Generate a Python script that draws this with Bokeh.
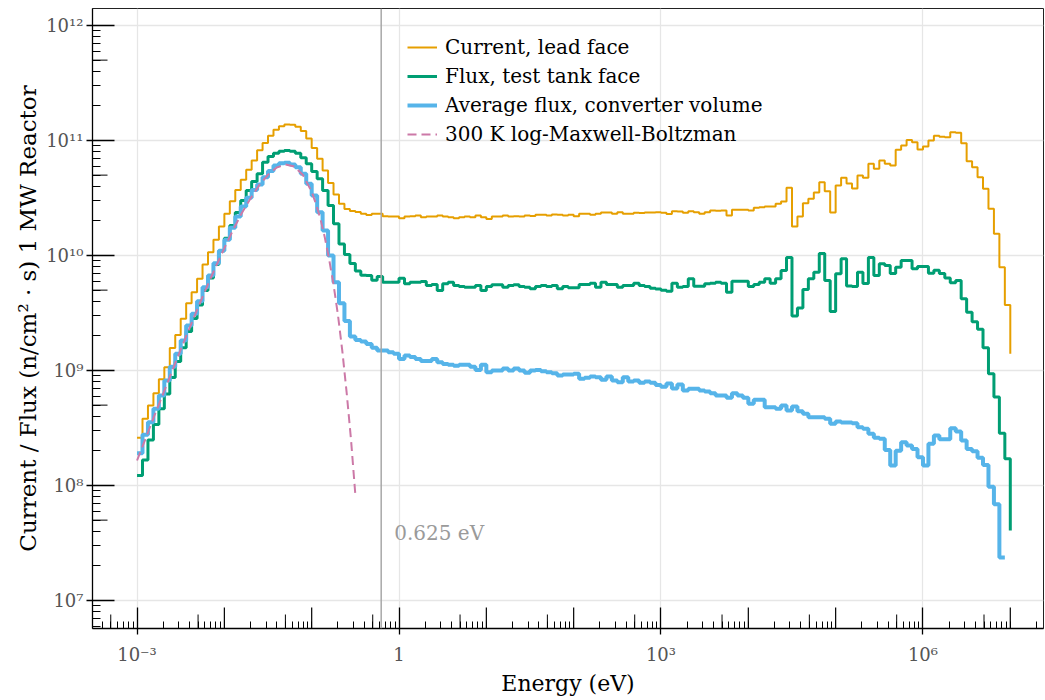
import numpy as np
from bokeh.plotting import figure
from bokeh.models import FixedTicker, Span, Label, Legend, LegendItem
from bokeh.embed import file_html
from bokeh.resources import INLINE

# ---------------- data ----------------
# 16 logarithmic bins per decade from 1e-3 eV to 1e7 eV
bin_edges_eV = np.logspace(-3, 7, 161)

# value per bin (n/cm^2 s); the last entry of the first two is the tail value drawn at 1e7 eV
current_lead_face = [
    2.60e8, 3.80e8, 4.96e8, 6.35e8, 8.40e8, 1.07e9, 1.57e9, 2.04e9, 2.82e9, 3.85e9,
    4.80e9, 6.27e9, 8.35e9, 1.07e10, 1.37e10, 1.79e10, 2.31e10, 2.96e10, 3.72e10, 4.55e10,
    5.56e10, 6.70e10, 8.24e10, 9.51e10, 1.10e11, 1.24e11, 1.33e11, 1.38e11, 1.37e11, 1.32e11,
    1.21e11, 1.04e11, 8.61e10, 6.93e10, 5.48e10, 4.27e10, 3.39e10, 2.82e10, 2.54e10, 2.44e10,
    2.39e10, 2.31e10, 2.25e10, 2.31e10, 2.31e10, 2.20e10, 2.18e10, 2.18e10, 2.11e10, 2.18e10,
    2.20e10, 2.23e10, 2.15e10, 2.18e10, 2.18e10, 2.23e10, 2.18e10, 2.15e10, 2.11e10, 2.15e10,
    2.18e10, 2.15e10, 2.23e10, 2.15e10, 2.08e10, 2.18e10, 2.18e10, 2.23e10, 2.18e10, 2.20e10,
    2.18e10, 2.23e10, 2.21e10, 2.26e10, 2.26e10, 2.23e10, 2.27e10, 2.26e10, 2.23e10, 2.26e10,
    2.20e10, 2.31e10, 2.31e10, 2.26e10, 2.31e10, 2.37e10, 2.37e10, 2.31e10, 2.38e10, 2.31e10,
    2.31e10, 2.35e10, 2.34e10, 2.37e10, 2.37e10, 2.38e10, 2.35e10, 2.30e10, 2.43e10, 2.41e10,
    2.35e10, 2.43e10, 2.38e10, 2.31e10, 2.38e10, 2.46e10, 2.45e10, 2.46e10, 2.23e10, 2.50e10,
    2.50e10, 2.50e10, 2.46e10, 2.60e10, 2.63e10, 2.67e10, 2.67e10, 2.82e10, 2.95e10, 3.88e10,
    1.79e10, 2.18e10, 2.85e10, 3.11e10, 3.53e10, 4.34e10, 3.62e10, 2.37e10, 4.06e10, 4.74e10,
    4.23e10, 3.83e10, 4.97e10, 4.74e10, 6.27e10, 5.67e10, 6.70e10, 6.27e10, 6.07e10, 8.30e10,
    9.06e10, 1.01e11, 9.66e10, 8.36e10, 8.87e10, 1.00e11, 1.10e11, 1.08e11, 1.07e11, 1.18e11,
    1.17e11, 9.48e10, 6.61e10, 5.86e10, 4.80e10, 3.80e10, 2.55e10, 1.55e10, 7.91e9, 3.72e9,
    1.40e9,
]

flux_test_tank_face = [
    1.22e8, 1.67e8, 2.49e8, 3.39e8, 4.64e8, 6.25e8, 8.69e8, 1.20e9, 1.58e9, 2.18e9,
    2.83e9, 3.72e9, 4.97e9, 6.37e9, 8.35e9, 1.10e10, 1.41e10, 1.82e10, 2.37e10, 3.01e10,
    3.67e10, 4.40e10, 5.13e10, 6.47e10, 7.26e10, 7.76e10, 8.07e10, 8.19e10, 8.07e10, 7.76e10,
    7.08e10, 6.27e10, 5.37e10, 4.65e10, 3.67e10, 2.72e10, 1.89e10, 1.26e10, 1.02e10, 8.51e9,
    7.33e9, 6.74e9, 6.70e9, 6.10e9, 6.56e9, 5.86e9, 5.86e9, 5.86e9, 6.35e9, 5.67e9,
    5.86e9, 5.86e9, 5.94e9, 5.48e9, 5.60e9, 4.97e9, 5.67e9, 5.86e9, 5.48e9, 5.37e9,
    5.30e9, 5.30e9, 5.48e9, 4.97e9, 5.37e9, 5.56e9, 5.56e9, 5.30e9, 5.48e9, 5.56e9,
    5.37e9, 5.30e9, 5.13e9, 5.37e9, 5.48e9, 5.37e9, 5.48e9, 5.13e9, 5.37e9, 5.24e9,
    5.24e9, 5.60e9, 5.60e9, 5.74e9, 5.30e9, 5.86e9, 5.60e9, 5.60e9, 5.30e9, 5.48e9,
    5.48e9, 5.74e9, 5.48e9, 5.37e9, 5.20e9, 5.12e9, 4.99e9, 4.90e9, 5.74e9, 5.30e9,
    5.37e9, 6.27e9, 5.41e9, 5.41e9, 5.67e9, 5.74e9, 5.86e9, 5.74e9, 4.80e9, 5.98e9,
    5.98e9, 5.98e9, 5.37e9, 5.60e9, 5.86e9, 6.27e9, 5.74e9, 6.27e9, 7.41e9, 9.61e9,
    2.98e9, 3.49e9, 5.06e9, 6.27e9, 7.16e9, 1.04e10, 6.07e9, 3.26e9, 6.93e9, 9.35e9,
    5.43e9, 5.37e9, 7.16e9, 5.71e9, 9.61e9, 6.70e9, 8.49e9, 8.18e9, 6.97e9, 7.91e9,
    9.06e9, 9.06e9, 7.66e9, 8.02e9, 8.02e9, 7.02e9, 7.45e9, 6.97e9, 6.37e9, 5.80e9,
    6.07e9, 4.20e9, 3.21e9, 2.65e9, 2.28e9, 1.58e9, 9.35e8, 5.89e8, 2.85e8, 1.71e8,
    4.06e7,
]

# ends one bin earlier (the last value closes the final bin)
avg_flux_converter_volume = [
    1.91e8, 2.77e8, 3.55e8, 4.64e8, 6.07e8, 8.19e8, 1.08e9, 1.40e9, 1.82e9, 2.46e9,
    3.11e9, 4.01e9, 5.30e9, 6.70e9, 8.57e9, 1.10e10, 1.37e10, 1.74e10, 2.18e10, 2.67e10,
    3.18e10, 3.72e10, 4.14e10, 4.80e10, 5.43e10, 6.07e10, 6.35e10, 6.40e10, 6.18e10, 5.86e10,
    5.13e10, 4.20e10, 3.33e10, 2.38e10, 1.65e10, 1.00e10, 5.86e9, 3.85e9, 2.69e9, 1.98e9,
    1.84e9, 1.79e9, 1.70e9, 1.58e9, 1.49e9, 1.49e9, 1.44e9, 1.40e9, 1.26e9, 1.35e9,
    1.31e9, 1.26e9, 1.21e9, 1.21e9, 1.26e9, 1.18e9, 1.14e9, 1.12e9, 1.10e9, 1.12e9,
    1.12e9, 1.08e9, 1.01e9, 1.12e9, 9.66e8, 1.00e9, 1.00e9, 1.04e9, 1.00e9, 1.04e9,
    1.00e9, 9.55e8, 1.00e9, 1.01e9, 9.86e8, 9.66e8, 9.48e8, 9.06e8, 9.23e8, 9.23e8,
    9.35e8, 8.47e8, 8.65e8, 8.87e8, 8.75e8, 8.30e8, 8.87e8, 8.19e8, 7.91e8, 8.75e8,
    8.02e8, 8.19e8, 7.82e8, 8.02e8, 7.82e8, 7.48e8, 7.21e8, 7.71e8, 6.97e8, 7.55e8,
    6.70e8, 6.93e8, 6.93e8, 6.70e8, 6.56e8, 6.35e8, 6.07e8, 6.07e8, 5.79e8, 6.35e8,
    6.07e8, 5.79e8, 5.13e8, 5.56e8, 5.56e8, 4.80e8, 4.80e8, 4.64e8, 4.96e8, 4.49e8,
    4.86e8, 4.43e8, 4.20e8, 3.93e8, 3.93e8, 3.93e8, 3.80e8, 3.44e8, 3.61e8, 3.53e8,
    3.53e8, 3.48e8, 3.21e8, 3.11e8, 2.82e8, 2.60e8, 2.55e8, 2.04e8, 1.49e8, 2.01e8,
    2.38e8, 2.23e8, 2.08e8, 1.76e8, 1.49e8, 2.31e8, 2.72e8, 2.53e8, 2.53e8, 3.15e8,
    2.95e8, 2.46e8, 2.08e8, 1.99e8, 1.74e8, 1.51e8, 9.75e7, 6.87e7, 2.37e7, 2.37e7,
]

# 300 K log-Maxwell-Boltzmann curve
mb_energy_eV = [1.0e-3, 1.26e-3, 1.58e-3, 2.0e-3, 2.51e-3, 3.16e-3, 3.98e-3, 5.01e-3, 6.31e-3,
                7.94e-3, 1.0e-2, 1.26e-2, 1.58e-2, 2.0e-2, 2.51e-2, 3.16e-2, 3.98e-2, 5.01e-2,
                6.31e-2, 7.94e-2, 0.1, 0.112, 0.126, 0.141, 0.158, 0.178, 0.2, 0.224, 0.251,
                0.282, 0.316]
mb_flux = [1.65e8, 2.59e8, 4.05e8, 6.32e8, 9.81e8, 1.52e9, 2.33e9, 3.55e9, 5.35e9,
           7.95e9, 1.16e10, 1.67e10, 2.33e10, 3.15e10, 4.09e10, 5.04e10, 5.82e10, 6.19e10,
           5.94e10, 5.01e10, 3.58e10, 2.81e10, 2.08e10, 1.45e10, 9.36e9, 5.58e9, 3.03e9,
           1.49e9, 6.5e8, 2.51e8, 8.35e7]

cadmium_cutoff_eV = 0.625

series_labels = ["Current, lead face", "Flux, test tank face",
                 "Average flux, converter volume", "300 K log-Maxwell-Boltzman"]

x_labelled = [1e-3, 1.0, 1e3, 1e6]
x_label_text = ["10\u207b\u00b3", "1", "10\u00b3", "10\u2076"]
x_other_decades = [1e-2, 1e-1, 10.0, 100.0, 1e4, 1e5, 1e7]
y_decades = [1e7, 1e8, 1e9, 1e10, 1e11, 1e12]
y_label_text = ["10\u2077", "10\u2078", "10\u2079", "10\u00b9\u2070", "10\u00b9\u00b9", "10\u00b9\u00b2"]

# ---------------- figure ----------------
FONT = "DejaVu Serif"
X0, X1 = 3.09e-4, 2.40e7
Y0, Y1 = 5.71e6, 1.406e12

p = figure(width=1045, height=700, x_axis_type="log", y_axis_type="log",
           x_range=(X0, X1), y_range=(Y0, Y1),
           output_backend="svg", toolbar_location=None,
           min_border_left=92, min_border_right=2, min_border_top=8, min_border_bottom=72)
p.background_fill_color = "white"
p.border_fill_color = "white"
p.outline_line_color = "#222222"
p.outline_line_width = 1

# minor tick positions (mantissas 2..9 in every decade)
minor_x = [m * 10.0 ** e for e in range(-4, 8) for m in range(1, 10) if X0 <= m * 10.0 ** e <= X1]
minor_y = [m * 10.0 ** e for e in range(6, 13) for m in range(1, 10) if Y0 <= m * 10.0 ** e <= Y1]

xa = p.xaxis[0]
xa.ticker = FixedTicker(ticks=x_labelled, minor_ticks=minor_x)
xa.major_label_overrides = {t: s for t, s in zip(x_labelled, x_label_text)}
ya = p.yaxis[0]
ya.ticker = FixedTicker(ticks=y_decades, minor_ticks=minor_y)
ya.major_label_overrides = {t: s for t, s in zip(y_decades, y_label_text)}

for ax in (xa, ya):
    ax.axis_line_color = "black"
    ax.axis_line_width = 1.3
    ax.major_tick_line_color = "black"
    ax.minor_tick_line_color = "black"
    ax.major_tick_line_width = 1.3
    ax.minor_tick_line_width = 1
    ax.major_tick_out = 6
    ax.minor_tick_out = 0
    ax.major_label_text_font = FONT
    ax.major_label_text_font_size = "18px"
    ax.major_label_text_color = "#555555"
    ax.axis_label_text_font = FONT
    ax.axis_label_text_font_style = "normal"
    ax.axis_label_text_color = "black"

xa.major_tick_in = 21
xa.minor_tick_in = 7
xa.major_label_standoff = 9
xa.axis_label = "Energy (eV)"
xa.axis_label_standoff = 3
xa.axis_label_text_font_size = "22px"
ya.major_tick_in = 22
ya.minor_tick_in = 8
ya.major_label_standoff = 3
ya.axis_label = "Current / Flux (n/cm\u00b2 \u00b7 s) 1 MW Reactor"
ya.axis_label_standoff = 2
ya.axis_label_text_font_size = "23px"

p.xgrid.ticker = FixedTicker(ticks=x_labelled)
p.xgrid.grid_line_color = "#e6e6e6"
p.xgrid.grid_line_width = 1.3
p.ygrid.grid_line_color = "#e6e6e6"
p.ygrid.grid_line_width = 1.3

# longer inner ticks: unlabelled decades and the 5-mantissa ticks
p.ray(x=x_other_decades, y=[Y0] * len(x_other_decades), length=21, length_units="screen",
      angle=np.pi / 2, line_color="black", line_width=1.2)
x_fives = [5 * 10.0 ** e for e in range(-4, 7)]
p.ray(x=x_fives, y=[Y0] * len(x_fives), length=14, length_units="screen",
      angle=np.pi / 2, line_color="black", line_width=1)
y_fives = [5 * 10.0 ** e for e in range(7, 12)]
p.ray(x=[X0] * len(y_fives), y=y_fives, length=15, length_units="screen",
      angle=0, line_color="black", line_width=1)

# cut-off line
p.add_layout(Span(location=cadmium_cutoff_eV, dimension="height",
                  line_color="#a8a8a8", line_width=1.5))
p.add_layout(Label(x=cadmium_cutoff_eV, y=3.9e7, x_offset=13, text="0.625 eV",
                   text_font=FONT, text_font_size="20px", text_color="#9a9a9a",
                   text_baseline="middle"))

r_cur = p.step(x=list(bin_edges_eV), y=current_lead_face, mode="after",
               line_color="#E69F00", line_width=2)
r_tank = p.step(x=list(bin_edges_eV), y=flux_test_tank_face, mode="after",
                line_color="#009E73", line_width=3)
r_conv = p.step(x=list(bin_edges_eV[:160]), y=avg_flux_converter_volume, mode="after",
                line_color="#56B4E9", line_width=4)
r_mb = p.line(x=mb_energy_eV, y=mb_flux, line_color="#CC79A7", line_width=2,
              line_dash="9 5")

legend = Legend(items=[LegendItem(label=series_labels[0], renderers=[r_cur]),
                       LegendItem(label=series_labels[1], renderers=[r_tank]),
                       LegendItem(label=series_labels[2], renderers=[r_conv]),
                       LegendItem(label=series_labels[3], renderers=[r_mb])],
                location=(315, 482), orientation="vertical",
                label_text_font=FONT, label_text_font_size="20px", label_text_color="black",
                glyph_width=30, glyph_height=20, label_height=20, label_standoff=8,
                spacing=5, padding=0, margin=0,
                border_line_color=None, background_fill_alpha=0)
p.add_layout(legend)

open("out.html", "w").write(file_html(p, INLINE))
